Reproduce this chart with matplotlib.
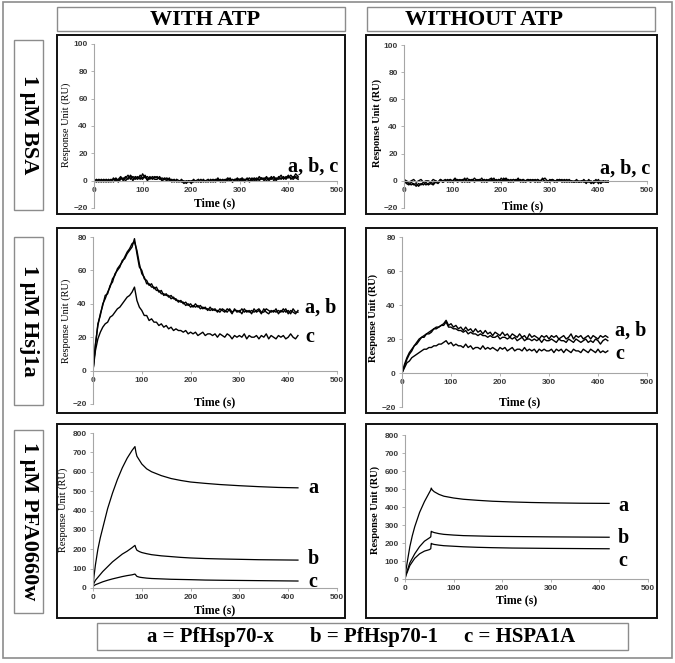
import matplotlib
matplotlib.use("Agg")
import matplotlib.pyplot as plt
import matplotlib.patches as mpatches
import numpy as np

W, H = 675, 663
SERIF = "Liberation Serif"
SANS = "Liberation Sans"
AXIS = "#a6a6a6"
TICK = "#3a3a3a"
GRAYBOX = "#8c8c8c"

plt.rcParams["font.family"] = [SANS, "DejaVu Sans"]
plt.rcParams["font.weight"] = "bold"

# ---- data -----------------------------------------------------------
t5 = np.arange(0, 425, 5)          # 5 s sampling grid, 0..420 s

# 1 uM BSA, with ATP
bsa_atp_a = [0, -1, 1, 0, -1, 1,  0, 1, -1, 2, 0, 2,  1, 3, 1, 4, 2, 1,
             3, 1, 5, 2, 3, 1,  3, 2, 3, 1, 2, 1,  2, 0, 1, -1, 1, 0,
             -1, 0, -2, 0, -1, 1,  -1, 0, -1, 1, -1, 0,  0, 1, -1, 1, 0, 1,
             -1, 1, 0, 1, 0, 2,  0, 1, -1, 2, 0, 1,  2, 0, 3, 1, 2, 0,
             2, 1, 3, 1, 2, 4,  1, 3, 2, 4, 2, 5,  3]
bsa_atp_b = [1, 0, -1, 1, 0, -1,  1, -1, 2, 0, 1, 3,  0, 2, 4, 1, 3, 2,
             1, 4, 2, 3, 0, 3,  1, 3, 2, 2, 0, 2,  1, 1, 0, 1, -1, 0,
             0, -2, -1, 0, -2, 0,  0, -1, 1, -1, 0, -1,  1, -1, 0, 2, -1, 0,
             1, 0, 2, -1, 1, 0,  1, 2, 0, 1, 2, 0,  1, 2, 0, 2, 1, 3,
             0, 2, 2, 0, 3, 1,  3, 1, 3, 2, 1, 3,  2]
bsa_atp_c = [-1, 1, 0, -1, 1, 0,  -1, 0, 1, 1, -1, 1,  2, 0, 2, 3, 0, 3,
             2, 2, 1, 4, 1, 2,  2, 1, 1, 3, 0, 1,  0, 2, -1, 0, 0, -1,
             1, -1, 0, -1, 0, -1,  0, 1, -1, 0, 0, 1,  -1, 0, 1, 0, 1, -1,
             0, 2, 1, -1, 1, 1,  1, 0, 1, 1, -1, 2,  0, 1, 1, 2, 0, 2,
             1, 3, 0, 2, 1, 2,  2, 2, 4, 1, 3, 2,  1]

# 1 uM BSA, without ATP
bsa_noatp_a = [0, -2, -3, -1, -3, -2,  -4, -2, -3, -1, -3, -2,  -3, -1, -2, 0, -1, 0,
               1, -1, 0, 1, -1, 0,  1, -1, 2, 0, 1, -1,  1, 0, 2, -1, 1, 0,
               1, -1, 0, 1, -1, 2,  0, 1, -1, 1, 0, 2,  -1, 1, 0, 1, -1, 0,
               1, -1, 0, 1, 0, -1,  1, 0, -1, 1, 0, 1,  -1, 0, 1, -1, 0, -1,
               0, -1, 1, -1, 0, -2,  0, -1, 1, -2, 0, -1,  0]
bsa_noatp_b = [1, 0, -1, 0, 1, -1,  0, 1, -1, 0, 0, -1,  1, 0, -1, 1, 0, 1,
               -1, 1, 0, 2, 0, 1,  0, 2, -1, 1, 0, 2,  0, 1, -1, 1, 0, 1,
               2, 0, 1, -1, 2, 0,  1, -1, 0, 1, 0, 1,  0, 1, -1, 0, 1, 0,
               -1, 1, 0, 1, 2, 0,  0, 1, 0, -1, 1, 0,  1, -1, 0, 0, -1, 1,
               -1, 0, 0, -2, 1, -1,  -1, 1, -2, 0, -1, 0,  -1]
bsa_noatp_c = [0, -1, -2, -3, -2, -4,  -2, -3, -1, -3, -2, -1,  -2, 0, -1, 1, -1, 0,
               0, 1, -1, 0, 1, 0,  -1, 1, 0, -1, 1, 0,  0, 1, 0, 1, -1, 0,
               0, 2, -1, 1, 0, 1,  2, 0, 1, -1, 1, 0,  1, -1, 0, 1, 0, 1,
               0, 1, -1, 2, -1, 0,  -1, 1, 0, 0, 1, -1,  0, 1, -1, 0, -1, 0,
               -1, 0, -1, 0, -1, 0,  -2, 0, -1, -1, 0, -1,  -1]

# 1 uM Hsj1a, with ATP
hsj_atp_a = [0, 16, 27, 34, 39, 45,  46, 51, 53, 58, 60, 62,  66, 67, 70, 72, 74, 79,
             70, 62, 60, 55, 54, 51,  52, 49, 50, 47, 48, 45,  46, 44, 45, 43, 43, 41,
             42, 40, 41, 39, 40, 38,  40, 38, 39, 37, 38, 36,  38, 36, 37, 35, 37, 36,
             35, 37, 36, 34, 37, 35,  36, 34, 37, 35, 36, 34,  37, 35, 36, 34, 37, 35,
             34, 36, 35, 37, 34, 36,  35, 37, 34, 36, 35, 34,  36]
hsj_atp_b = [0, 15, 28, 33, 40, 43,  47, 50, 55, 57, 61, 63,  65, 68, 71, 73, 76, 77,
             72, 64, 58, 56, 52, 52,  50, 50, 48, 48, 46, 46,  45, 45, 43, 44, 42, 42,
             41, 41, 39, 40, 38, 39,  38, 39, 37, 38, 37, 37,  36, 37, 36, 36, 35, 37,
             36, 35, 37, 35, 36, 36,  35, 37, 35, 36, 35, 36,  35, 36, 37, 35, 35, 37,
             36, 35, 36, 35, 36, 35,  37, 35, 36, 34, 37, 35,  35]
hsj_atp_c = [0, 12, 19, 23, 26, 28,  29, 32, 33, 35, 37, 38,  40, 42, 44, 45, 47, 50,
             42, 38, 36, 33, 33, 30,  31, 29, 29, 27, 28, 26,  27, 25, 26, 24, 25, 24,
             24, 23, 24, 22, 23, 22,  23, 21, 22, 23, 21, 22,  22, 21, 22, 20, 22, 21,
             20, 22, 21, 19, 21, 20,  21, 20, 22, 19, 21, 20,  20, 21, 19, 21, 20, 22,
             19, 21, 20, 19, 21, 20,  21, 19, 20, 22, 20, 19,  21]

# 1 uM Hsj1a, without ATP
hsj_noatp_a = [0, 5, 9, 12, 14, 16,  18, 20, 21, 22, 23, 24,  25, 26, 26, 27, 28, 29,
               31, 28, 29, 27, 28, 26,  27, 25, 27, 25, 26, 24,  26, 24, 25, 23, 25, 23,
               24, 22, 24, 23, 22, 24,  22, 23, 21, 23, 22, 21,  23, 21, 22, 20, 23, 21,
               22, 21, 20, 22, 21, 22,  20, 22, 21, 22, 20, 21,  22, 20, 21, 23, 20, 22,
               21, 22, 20, 21, 22, 20,  22, 21, 20, 22, 21, 22,  21]
hsj_noatp_b = [0, 4, 8, 11, 13, 16,  17, 19, 21, 21, 23, 23,  24, 26, 27, 27, 28, 28,
               30, 27, 27, 26, 26, 25,  25, 24, 25, 23, 24, 23,  23, 22, 23, 22, 22, 21,
               22, 21, 21, 22, 20, 21,  21, 20, 21, 20, 21, 19,  20, 21, 19, 20, 20, 19,
               20, 19, 20, 18, 20, 19,  19, 20, 19, 18, 20, 19,  19, 18, 20, 19, 18, 20,
               19, 18, 19, 20, 18, 19,  18, 20, 19, 17, 19, 20,  19]
hsj_noatp_c = [0, 3, 6, 7, 9, 10,  11, 12, 13, 14, 14, 15,  15, 16, 16, 17, 17, 18,
               19, 17, 18, 16, 17, 16,  16, 15, 17, 15, 16, 14,  15, 15, 14, 16, 14, 15,
               14, 15, 14, 13, 15, 14,  15, 13, 14, 15, 13, 14,  14, 13, 15, 13, 14, 13,
               14, 12, 14, 13, 14, 13,  13, 14, 12, 14, 13, 14,  12, 14, 13, 12, 14, 13,
               13, 12, 14, 13, 12, 14,  13, 12, 14, 12, 13, 12,  13]

# 1 uM PFA0660w, with ATP
t_pfa_atp = [0, 2, 5, 10, 15, 20, 30, 40, 50, 60, 70, 80, 86, 88, 90, 95, 100,
             110, 120, 140, 160, 180, 200, 230, 260, 300, 340, 380, 420]
pfa_atp_a = [10, 60, 120, 200, 260, 310, 410, 490, 560, 620, 670, 710, 730, 700, 680,
             660, 640, 615, 600, 580, 565, 555, 547, 540, 534, 528, 523, 519, 517]
pfa_atp_b = [10, 25, 40, 55, 70, 85, 110, 135, 155, 175, 190, 208, 220, 205, 195,
             188, 183, 177, 172, 166, 162, 158, 155, 152, 150, 148, 146, 145, 144]
pfa_atp_c = [8, 12, 17, 22, 27, 32, 40, 47, 53, 59, 64, 68, 72, 66, 60,
             56, 54, 51, 49, 47, 45, 44, 43, 41, 40, 39, 38, 37, 36]

# 1 uM PFA0660w, without ATP
t_pfa_noatp = [0, 2, 5, 10, 15, 20, 30, 40, 50, 53, 54, 56, 60, 70, 80, 100,
               120, 150, 180, 220, 260, 300, 360, 420]
pfa_noatp_a = [0, 50, 100, 180, 240, 290, 370, 430, 480, 495, 505, 495, 485, 470,
               460, 450, 443, 437, 432, 428, 425, 423, 421, 420]
pfa_noatp_b = [0, 25, 50, 90, 115, 140, 180, 210, 228, 234, 265, 262, 258, 252,
               248, 244, 241, 239, 237, 236, 235, 234, 233, 232]
pfa_noatp_c = [0, 20, 40, 75, 95, 115, 140, 155, 163, 168, 198, 195, 192, 188,
               185, 182, 179, 176, 174, 172, 171, 170, 169, 168]

col_titles = ["WITH ATP", "WITHOUT ATP"]
row_titles = ["1 \u03bcM BSA", "1 \u03bcM Hsj1a", "1 \u03bcM PFA0660w"]
legend_items = ["a = PfHsp70-x", "b = PfHsp70-1", "c = HSPA1A"]
x_ticks = [0, 100, 200, 300, 400, 500]
y_ticks_bsa = [-20, 0, 20, 40, 60, 80, 100]
y_ticks_hsj = [-20, 0, 20, 40, 60, 80]
y_ticks_pfa = [0, 100, 200, 300, 400, 500, 600, 700, 800]


def px_axes(fig, x0, x1, ytop, ybot):
    return fig.add_axes([x0 / W, 1 - ybot / H, (x1 - x0) / W, (ybot - ytop) / H])


def box(ax, x0, y0, x1, y1, color, lw):
    ax.add_patch(mpatches.Rectangle((x0, y0), x1 - x0, y1 - y0, fill=False,
                                    edgecolor=color, linewidth=lw))


def setup(ax, ylim, yticks):
    ax.set_facecolor("none")
    ax.set_xlim(0, 500)
    ax.set_ylim(*ylim)
    ax.set_xticks(x_ticks)
    ax.set_yticks(yticks)
    for s in ("top", "right"):
        ax.spines[s].set_visible(False)
    ax.spines["bottom"].set_position(("data", 0))
    for s in ("left", "bottom"):
        ax.spines[s].set_color(AXIS)
        ax.spines[s].set_linewidth(0.8)
    ax.tick_params(length=2.5, width=0.6, color=AXIS, labelsize=6,
                   labelcolor=TICK, pad=2)


fig = plt.figure(figsize=(W / 100, H / 100), dpi=100, facecolor="white")

# ---- frame layer (pixel coordinates, y down) -------------------------
bg = fig.add_axes([0, 0, 1, 1], zorder=0)
bg.set_xlim(0, W)
bg.set_ylim(H, 0)
bg.axis("off")

box(bg, 3, 2, 672, 658, GRAYBOX, 1.2)
box(bg, 57, 7, 345, 31, GRAYBOX, 1.0)
box(bg, 367, 7, 655, 31, GRAYBOX, 1.0)
bg.text(205, 20, col_titles[0], family=SERIF, weight="bold", fontsize=16,
        ha="center", va="center")
bg.text(484, 20, col_titles[1], family=SERIF, weight="bold", fontsize=16,
        ha="center", va="center")

row_px = [(35, 214), (228, 413), (424, 618)]
lab_px = [(40, 210), (237, 405), (430, 613)]
for (y0, y1), (l0, l1), title in zip(row_px, lab_px, row_titles):
    box(bg, 57, y0, 345, y1, "#111111", 1.4)
    box(bg, 366, y0, 657, y1, "#111111", 1.4)
    box(bg, 14, l0, 43, l1, GRAYBOX, 1.0)
    bg.text(29, (l0 + l1) / 2, title, family=SERIF, weight="bold", fontsize=16,
            rotation=-90, ha="center", va="center")

box(bg, 97, 623, 628, 650, GRAYBOX, 1.0)
for xc, item in zip([210, 374, 520], legend_items):
    bg.text(xc, 637, item, family=SERIF, weight="bold", fontsize=15,
            ha="center", va="center")

# ---- data panels -----------------------------------------------------
panels = [
    # x0, x1, ytop, ybot, ylim, yticks, times, series, ylabel pos, time pos, letters
    (94, 337, 44, 208, (-20, 100), y_ticks_bsa, t5,
     [bsa_atp_a, bsa_atp_b, bsa_atp_c], (66, 125, "normal"), (215, 203),
     [(288, 167, "a, b, c")]),
    (404, 647, 45, 208, (-20, 100), y_ticks_bsa, t5,
     [bsa_noatp_a, bsa_noatp_b, bsa_noatp_c], (377, 123, "bold"), (523, 206),
     [(600, 169, "a, b, c")]),
    (93, 337, 237, 404, (-20, 80), y_ticks_hsj, t5,
     [hsj_atp_a, hsj_atp_b, hsj_atp_c], (66, 321, "normal"), (215, 402),
     [(305, 308, "a, b"), (305, 337, "c")]),
    (402, 647, 237, 407, (-20, 80), y_ticks_hsj, t5,
     [hsj_noatp_a, hsj_noatp_b, hsj_noatp_c], (373, 318, "bold"), (520, 402),
     [(615, 331, "a, b"), (615, 354, "c")]),
    (93, 337, 433, 588, (0, 800), y_ticks_pfa, t_pfa_atp,
     [pfa_atp_a, pfa_atp_b, pfa_atp_c], (63, 510, "normal"), (215, 610),
     [(308, 488, "a"), (308, 559, "b"), (308, 582, "c")]),
    (405, 648, 435, 579, (0, 800), y_ticks_pfa, t_pfa_noatp,
     [pfa_noatp_a, pfa_noatp_b, pfa_noatp_c], (375, 510, "bold"), (517, 600),
     [(618, 506, "a"), (618, 538, "b"), (618, 561, "c")]),
]

for (x0, x1, yt, yb, ylim, yticks, tt, series, ylab, tlab, letters) in panels:
    ax = px_axes(fig, x0, x1, yt, yb)
    ax.set_zorder(1)
    setup(ax, ylim, yticks)
    noisy = tt is t5
    for s in series:
        ax.plot(tt, s, color="black", linewidth=1.0 if noisy else 0.9)
    bg.text(ylab[0], ylab[1], "Response Unit (RU)", family=SERIF, weight=ylab[2],
            fontsize=7.5, rotation=90, ha="center", va="center")
    bg.text(tlab[0], tlab[1], "Time (s)", family=SERIF, weight="bold",
            fontsize=8.5, ha="center", va="center")
    for lx, ly, txt in letters:
        bg.text(lx, ly, txt, family=SERIF, weight="bold", fontsize=14.5,
                ha="left", va="center")

fig.savefig("out.png", dpi=100, facecolor="white")
plt.close(fig)
